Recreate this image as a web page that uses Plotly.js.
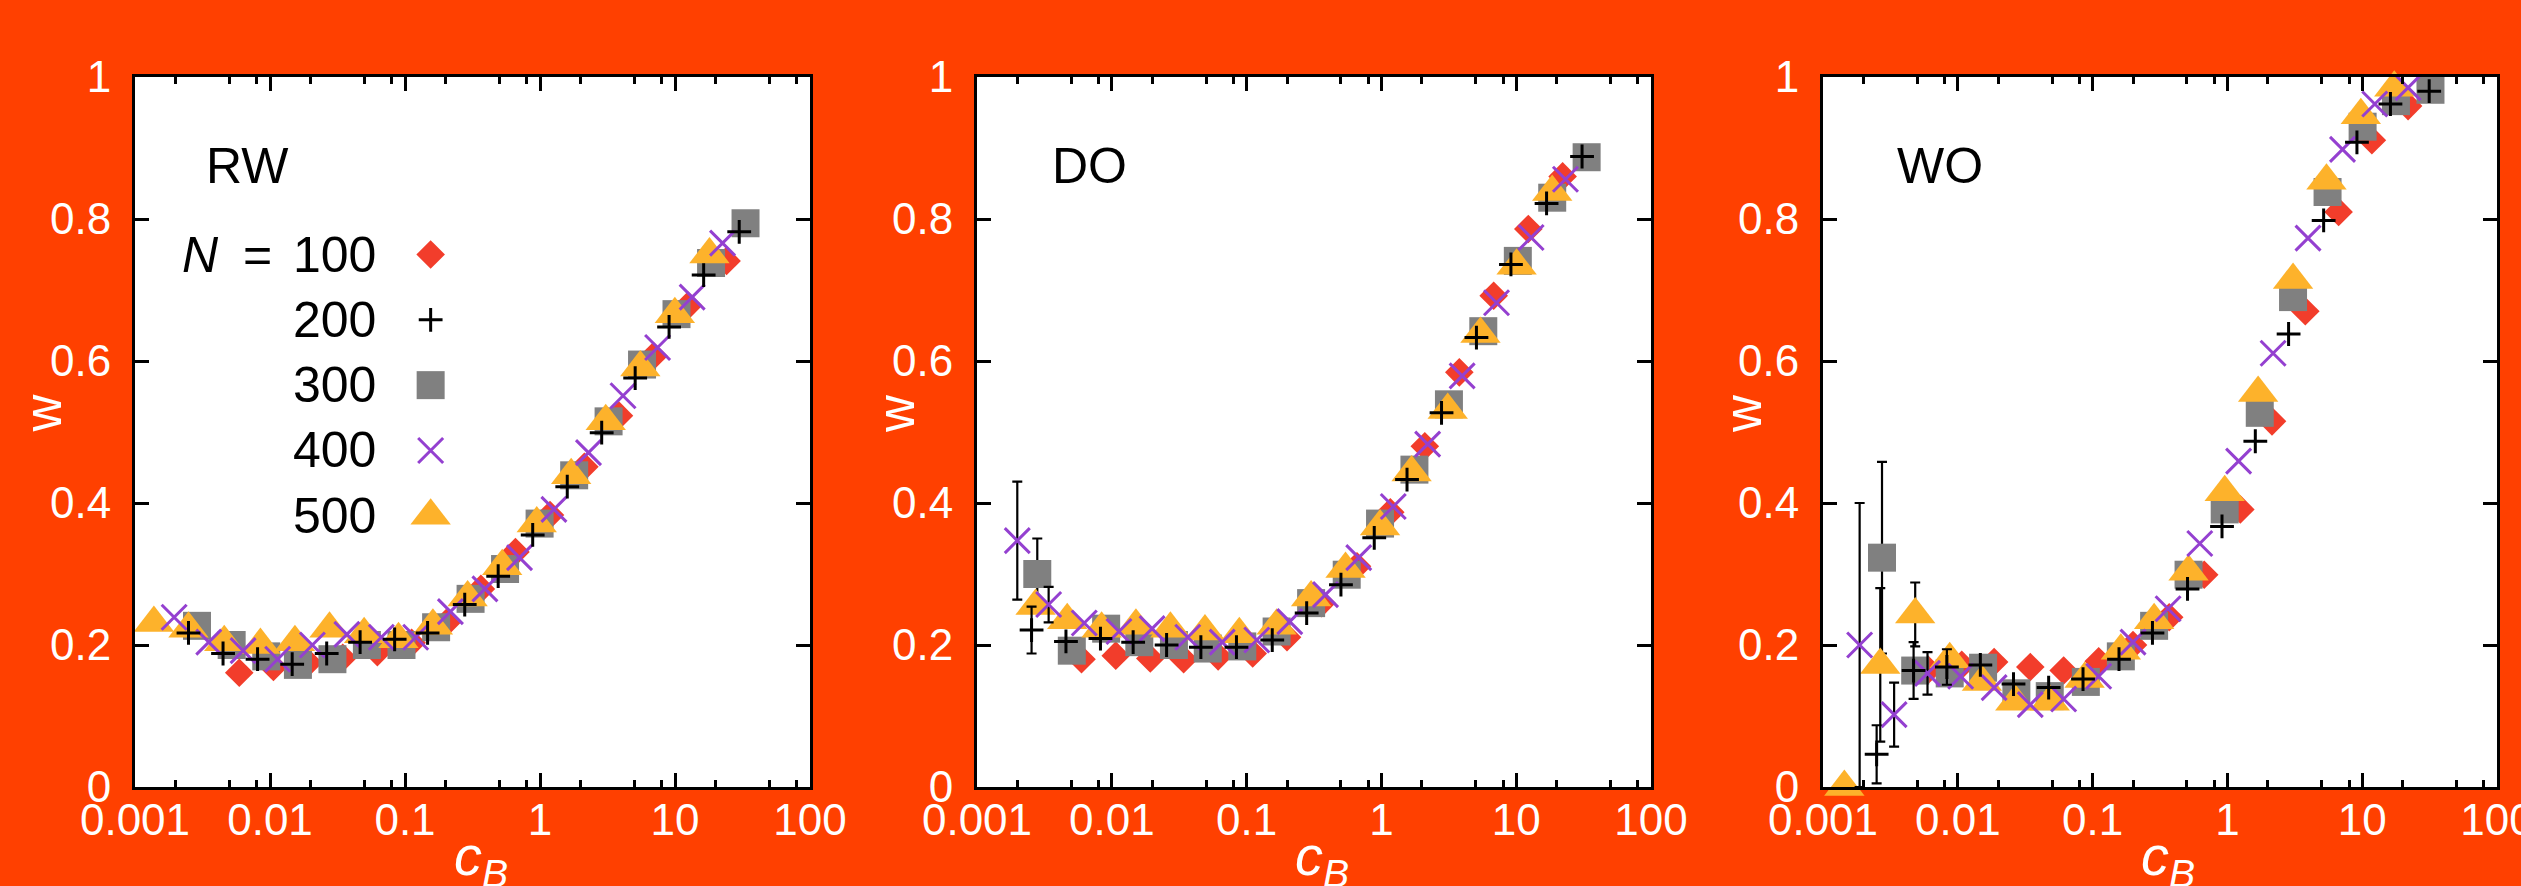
<!DOCTYPE html>
<html><head><meta charset="utf-8">
<script src="https://cdn.plot.ly/plotly-3.0.1.min.js"></script>
<style>html,body{margin:0;padding:0;background:#ff4000;overflow:hidden}</style>
</head><body><div id="chart" style="width:2521px;height:886px"></div>
<script>
// ---------------- data ----------------
const panelNames = ['RW', 'DO', 'WO'];
const seriesN = ['100', '200', '300', '400', '500'];
const xTickVals = [0.001, 0.01, 0.1, 1, 10, 100];
const xTickText = ['0.001', '0.01', '0.1', '1', '10', '100'];
const yTickVals = [0, 0.2, 0.4, 0.6, 0.8, 1];
const yTickText = ['0', '0.2', '0.4', '0.6', '0.8', '1'];

// RW
const rw_c_100 = [0.00592, 0.0106, 0.0192, 0.0346, 0.0624, 0.112, 0.202, 0.365, 0.658, 1.186, 2.133, 3.846, 6.93, 12.5, 24.1];
const rw_w_100 = [0.161, 0.169, 0.175, 0.182, 0.190, 0.203, 0.231, 0.279, 0.331, 0.383, 0.451, 0.523, 0.607, 0.678, 0.741];
const rw_c_200 = [0.00249, 0.00449, 0.00809, 0.0146, 0.0263, 0.0465, 0.0838, 0.147, 0.277, 0.490, 0.883, 1.592, 2.864, 5.07, 9.04, 16.3, 29.9];
const rw_w_200 = [0.217, 0.188, 0.180, 0.173, 0.188, 0.204, 0.208, 0.217, 0.257, 0.297, 0.355, 0.423, 0.499, 0.576, 0.648, 0.721, 0.782];
const rw_c_300 = [0.00288, 0.0052, 0.00938, 0.0161, 0.0290, 0.0522, 0.0942, 0.170, 0.306, 0.551, 0.993, 1.791, 3.221, 5.70, 10.26, 18.5, 33.3];
const rw_w_300 = [0.227, 0.200, 0.184, 0.172, 0.180, 0.200, 0.200, 0.225, 0.265, 0.307, 0.371, 0.439, 0.515, 0.595, 0.666, 0.738, 0.794];
const rw_c_400 = [0.00195, 0.00352, 0.00632, 0.0114, 0.0206, 0.0371, 0.0668, 0.120, 0.217, 0.391, 0.705, 1.268, 2.286, 4.121, 7.43, 13.4, 22.5];
const rw_w_400 = [0.239, 0.204, 0.192, 0.180, 0.200, 0.215, 0.211, 0.211, 0.247, 0.279, 0.323, 0.391, 0.471, 0.551, 0.619, 0.690, 0.766];
const rw_c_500 = [0.00138, 0.00249, 0.00458, 0.00849, 0.0153, 0.0276, 0.0498, 0.0895, 0.161, 0.291, 0.525, 0.946, 1.702, 3.069, 5.534, 9.977, 18.0];
const rw_w_500 = [0.231, 0.223, 0.204, 0.200, 0.204, 0.223, 0.215, 0.208, 0.227, 0.267, 0.311, 0.371, 0.439, 0.515, 0.591, 0.666, 0.750];

// DO
const do_c_100 = [0.00596, 0.0107, 0.0193, 0.0341, 0.0615, 0.111, 0.1995, 0.359, 0.659, 1.164, 2.099, 3.784, 6.808, 12.3, 22.1];
const do_w_100 = [0.180, 0.185, 0.181, 0.180, 0.184, 0.188, 0.211, 0.259, 0.311, 0.387, 0.480, 0.584, 0.692, 0.786, 0.860];
const do_c_200 = [0.00254, 0.00457, 0.00824, 0.0144, 0.0255, 0.0458, 0.0841, 0.155, 0.279, 0.501, 0.885, 1.549, 2.793, 5.07, 9.14, 16.8, 30.8];
const do_w_200 = [0.221, 0.205, 0.209, 0.204, 0.200, 0.197, 0.197, 0.207, 0.245, 0.285, 0.351, 0.433, 0.527, 0.633, 0.736, 0.822, 0.888];
const do_e_200 = [0.033];
const do_c_300 = [0.0028, 0.00505, 0.00908, 0.0160, 0.0289, 0.0515, 0.0929, 0.167, 0.301, 0.553, 0.977, 1.758, 3.170, 5.70, 10.28, 18.5, 33.3];
const do_w_300 = [0.300, 0.192, 0.223, 0.204, 0.200, 0.195, 0.198, 0.219, 0.259, 0.299, 0.371, 0.447, 0.539, 0.642, 0.741, 0.830, 0.887];
const do_e_300 = [0.05];
const do_c_400 = [0.00199, 0.0034, 0.00625, 0.0113, 0.0199, 0.0366, 0.0659, 0.119, 0.209, 0.385, 0.679, 1.225, 2.203, 3.972, 7.145, 12.9, 23.2];
const do_w_400 = [0.347, 0.257, 0.231, 0.219, 0.223, 0.211, 0.204, 0.207, 0.233, 0.271, 0.323, 0.395, 0.483, 0.579, 0.682, 0.774, 0.856];
const do_e_400 = [0.083, 0.025];
const do_c_500 = [0.00272, 0.00467, 0.0084, 0.0151, 0.0272, 0.0491, 0.0883, 0.167, 0.301, 0.542, 0.977, 1.675, 3.105, 5.433, 10.07, 18.5];
const do_w_500 = [0.255, 0.235, 0.223, 0.227, 0.223, 0.219, 0.215, 0.227, 0.267, 0.307, 0.367, 0.443, 0.531, 0.638, 0.734, 0.838];

// WO
const wo_c_100 = [0.00603, 0.0107, 0.0186, 0.0345, 0.061, 0.111, 0.1995, 0.370, 0.673, 1.247, 2.143, 3.784, 6.683, 11.8, 21.9];
const wo_w_100 = [0.165, 0.172, 0.176, 0.169, 0.164, 0.177, 0.200, 0.239, 0.299, 0.391, 0.515, 0.670, 0.810, 0.911, 0.959];
const wo_c_200 = [0.0025, 0.0047, 0.0083, 0.0147, 0.0259, 0.0472, 0.0849, 0.157, 0.278, 0.506, 0.912, 1.611, 2.844, 5.176, 9.141, 16.2, 31.4];
const wo_w_200 = [0.046, 0.164, 0.169, 0.172, 0.145, 0.140, 0.152, 0.180, 0.217, 0.279, 0.367, 0.487, 0.638, 0.798, 0.908, 0.962, 0.980];
const wo_e_200 = [0.041, 0.04, 0.025];
const wo_c_300 = [0.00274, 0.00483, 0.00871, 0.0154, 0.0272, 0.0481, 0.0891, 0.162, 0.286, 0.515, 0.955, 1.738, 3.069, 5.534, 10.07, 17.8, 32.1];
const wo_w_300 = [0.323, 0.164, 0.160, 0.168, 0.132, 0.128, 0.148, 0.184, 0.227, 0.299, 0.391, 0.527, 0.690, 0.838, 0.930, 0.966, 0.982];
const wo_e_300 = [0.135];
const wo_c_400 = [0.00187, 0.00337, 0.00596, 0.0105, 0.0186, 0.0345, 0.061, 0.111, 0.1995, 0.363, 0.624, 1.211, 2.183, 3.963, 7.145, 12.4, 21.9];
const wo_w_400 = [0.200, 0.102, 0.160, 0.156, 0.140, 0.116, 0.124, 0.156, 0.204, 0.251, 0.343, 0.459, 0.611, 0.773, 0.898, 0.962, 0.985];
const wo_e_400 = [0.2, 0.045, 0.03];
const wo_c_500 = [0.00144, 0.00266, 0.00483, 0.00871, 0.0151, 0.0267, 0.0481, 0.0873, 0.162, 0.286, 0.515, 0.955, 1.690, 3.069, 5.433, 9.772, 17.3];
const wo_w_500 = [0.000, 0.172, 0.243, 0.180, 0.148, 0.120, 0.120, 0.152, 0.192, 0.235, 0.303, 0.415, 0.555, 0.714, 0.854, 0.946, 0.985];
const wo_e_500 = [NaN, 0.108, 0.045];

// ---------------- styling ----------------
const W = 2521, H = 886;
const FONT = 'Liberation Sans, Arial, Helvetica, sans-serif';
const BG = '#ff4000';
const panelPx = [[135, 810], [977, 1651], [1823, 2497]];
const plotTop = 77, plotBottom = 787;
const yDomain = [(H - plotBottom) / H, (H - plotTop) / H];

const styles = {
  '100': {symbol: 'diamond', size: 22, color: '#f23d2b', line: {width: 0}},
  '200': {symbol: 'cross-thin', size: 17, color: '#000000', line: {width: 3, color: '#000000'}},
  '300': {symbol: 'square', size: 28, color: '#808080', line: {width: 0}},
  '400': {symbol: 'x-thin', size: 25, color: '#9440d0', line: {width: 3, color: '#9440d0'}},
  '500': {symbol: 'triangle-up', size: 35, color: '#fdb22b', line: {width: 0}}
};
const drawOrder = ['100', '300', '500', '400', '200'];

const data = {
  RW: {c: {'100': rw_c_100, '200': rw_c_200, '300': rw_c_300, '400': rw_c_400, '500': rw_c_500},
       w: {'100': rw_w_100, '200': rw_w_200, '300': rw_w_300, '400': rw_w_400, '500': rw_w_500},
       e: {}},
  DO: {c: {'100': do_c_100, '200': do_c_200, '300': do_c_300, '400': do_c_400, '500': do_c_500},
       w: {'100': do_w_100, '200': do_w_200, '300': do_w_300, '400': do_w_400, '500': do_w_500},
       e: {'200': do_e_200, '300': do_e_300, '400': do_e_400}},
  WO: {c: {'100': wo_c_100, '200': wo_c_200, '300': wo_c_300, '400': wo_c_400, '500': wo_c_500},
       w: {'100': wo_w_100, '200': wo_w_200, '300': wo_w_300, '400': wo_w_400, '500': wo_w_500},
       e: {'200': wo_e_200, '300': wo_e_300, '400': wo_e_400, '500': wo_e_500}}
};

const minorVals = [];
for (let d = -3; d < 2; d++) [2, 5, 8].forEach(m => minorVals.push(m * Math.pow(10, d)));

const traces = [];
const layout = {
  width: W, height: H,
  margin: {l: 0, r: 0, t: 0, b: 0, pad: 0},
  paper_bgcolor: BG, plot_bgcolor: '#ffffff',
  showlegend: false,
  font: {family: FONT, color: '#ffffff'},
  annotations: []
};

panelNames.forEach((p, i) => {
  const ax = i === 0 ? '' : String(i + 1);
  const dom = [panelPx[i][0] / W, panelPx[i][1] / W];
  layout['xaxis' + ax] = {
    type: 'log', range: [-3, 2], domain: dom, anchor: 'y' + ax,
    showline: true, linecolor: '#000', linewidth: 3, mirror: 'allticks',
    ticks: 'inside', ticklen: 14, tickwidth: 3, tickcolor: '#000',
    tickmode: 'array', tickvals: xTickVals, ticktext: xTickText,
    minor: {tickmode: 'array', tickvals: minorVals, ticks: 'inside', ticklen: 7, tickwidth: 3, tickcolor: '#000', showgrid: false},
    showgrid: false, zeroline: false,
    tickfont: {family: FONT, size: 44, color: '#ffffff'},
    ticklabelstandoff: -8, ticklabeloverflow: 'allow'
  };
  layout['yaxis' + ax] = {
    range: [0, 1], domain: yDomain, anchor: 'x' + ax,
    showline: true, linecolor: '#000', linewidth: 3, mirror: 'allticks',
    ticks: 'inside', ticklen: 14, tickwidth: 3, tickcolor: '#000',
    tickmode: 'array', tickvals: yTickVals, ticktext: yTickText,
    showgrid: false, zeroline: false,
    tickfont: {family: FONT, size: 44, color: '#ffffff'},
    ticklabelstandoff: 12, ticklabeloverflow: 'allow'
  };

  drawOrder.forEach(s => {
    const st = styles[s];
    const t = {
      type: 'scatter', mode: 'markers', name: 'N = ' + s,
      x: data[p].c[s], y: data[p].w[s],
      xaxis: 'x' + ax, yaxis: 'y' + ax, cliponaxis: false,
      marker: {symbol: st.symbol, size: st.size, color: st.color, line: st.line}
    };
    if (data[p].e[s]) {
      t.error_y = {type: 'data', array: data[p].e[s], symmetric: true, visible: true, color: '#000', thickness: 2.2, width: 5};
    }
    traces.push(t);
  });

  // panel label
  const labelCx = [0.166, 0.167, 0.173][i];
  layout.annotations.push({
    text: p, xref: 'x' + ax + ' domain', yref: 'y' + ax + ' domain', x: labelCx, y: 0.875,
    xanchor: 'center', yanchor: 'middle', showarrow: false,
    font: {family: FONT, size: 50, color: '#000'}
  });
  // axis titles
  const wOff = [-92.5, -81, -80][i];
  layout.annotations.push({
    text: 'w', xref: 'paper', yref: 'paper', x: (panelPx[i][0] + wOff) / W, y: (H - 414) / H,
    xanchor: 'center', yanchor: 'middle', textangle: -90, showarrow: false,
    font: {family: FONT, size: 51, color: '#fff'}
  });
  layout.annotations.push({
    text: '<i>c</i><sub><i>B</i></sub>', xref: 'paper', yref: 'paper',
    x: ((panelPx[i][0] + panelPx[i][1]) / 2 + 8) / W, y: (H - 859) / H,
    xanchor: 'center', yanchor: 'middle', showarrow: false,
    font: {family: FONT, size: 56, color: '#fff'}
  });
});

// legend (inside RW panel): text on the left, symbol on the right
const legTop = 0.750, legStep = 0.092, legSymX = 0.438, legTextRight = 0.360;
layout.xaxis4 = {range: [0, 1], overlaying: 'x', visible: false, anchor: 'y4'};
layout.yaxis4 = {range: [0, 1], overlaying: 'y', visible: false, anchor: 'x4'};
seriesN.forEach((s, k) => {
  const st = styles[s];
  const yy = legTop - k * legStep;
  traces.push({
    type: 'scatter', mode: 'markers', name: 'legend ' + s, x: [legSymX], y: [yy],
    xaxis: 'x4', yaxis: 'y4', cliponaxis: false, hoverinfo: 'skip',
    marker: {symbol: st.symbol, size: st.size, color: st.color, line: st.line}
  });
  layout.annotations.push({
    text: s, xref: 'x domain', yref: 'y domain', x: legTextRight, y: yy,
    xanchor: 'right', yanchor: 'middle', showarrow: false,
    font: {family: FONT, size: 50, color: '#000'}
  });
});
layout.annotations.push({
  text: '<i>N</i>', xref: 'x domain', yref: 'y domain', x: 0.066, y: legTop,
  xanchor: 'left', yanchor: 'middle', showarrow: false, font: {family: FONT, size: 50, color: '#000'}
});
layout.annotations.push({
  text: '=', xref: 'x domain', yref: 'y domain', x: 0.157, y: legTop,
  xanchor: 'left', yanchor: 'middle', showarrow: false, font: {family: FONT, size: 50, color: '#000'}
});

Plotly.newPlot('chart', traces, layout, {staticPlot: true, displayModeBar: false});
</script>
</body></html>
